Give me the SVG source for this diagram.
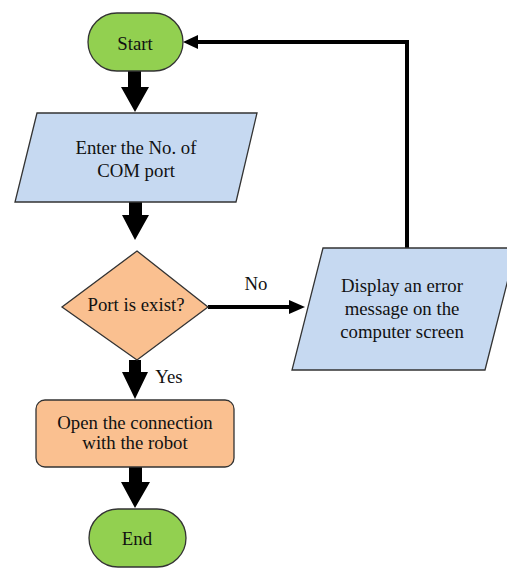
<svg xmlns="http://www.w3.org/2000/svg" width="507" height="568" viewBox="0 0 507 568">
<style>
text{font-family:'Liberation Serif','Times New Roman',serif;font-size:18.8px;fill:#111;text-anchor:middle;dominant-baseline:central}
.term{fill:#92D050;stroke:#333;stroke-width:1.3}
.io{fill:#C6D9F1;stroke:#333;stroke-width:1.3}
.proc{fill:#FAC090;stroke:#333;stroke-width:1.3}
.ln{fill:none;stroke:#000;stroke-width:4}
.fat{fill:#000}
</style>
<g id="connectors">
<path class="fat" d="M128,71 H141 V87 H149 L135,112 L121,87 H128 Z"/>
<path class="fat" d="M129,202 H142 V215 H149 L135,240 L122,215 H129 Z"/>
<line class="ln" x1="208" y1="307" x2="290" y2="307" stroke-width="3.5"/>
<path class="fat" d="M289,300 L305,307 L289,314 Z"/>
<path class="fat" d="M129,360 H141 V372 H148 L135,399 L122,372 H129 Z"/>
<path class="fat" d="M129,467 H142 V482 H150 L135,508 L121,482 H129 Z"/>
<polyline class="ln" points="407,248 407,42 196,42"/>
<path class="fat" d="M198,35 L183,42 L198,49 Z"/>
<text x="256" y="283">No</text>
<text x="169" y="376">Yes</text>
</g>
<g id="start">
<rect class="term" x="88" y="13" width="95" height="58" rx="29" ry="29"/>
<text x="135" y="43">Start</text>
</g>
<g id="enter">
<polygon class="io" points="37,113 257,113 236,202 15,202"/>
<text x="136" y="147">Enter the No. of</text>
<text x="136" y="170">COM port</text>
</g>
<g id="decision">
<polygon class="proc" points="137,251 208,307 137,360 62,307"/>
<text x="136" y="304">Port is exist?</text>
</g>
<g id="error">
<polygon class="io" points="323,248 516,248 485,370 292,370"/>
<text x="402" y="285">Display an error</text>
<text x="402" y="308">message on the</text>
<text x="402" y="331">computer screen</text>
</g>
<g id="open">
<rect class="proc" x="36" y="400" width="198" height="67" rx="9" ry="9"/>
<text x="135" y="422">Open the connection</text>
<text x="135" y="442">with the robot</text>
</g>
<g id="end">
<rect class="term" x="89" y="509" width="97" height="58" rx="29" ry="29"/>
<text x="137" y="538">End</text>
</g>
</svg>
